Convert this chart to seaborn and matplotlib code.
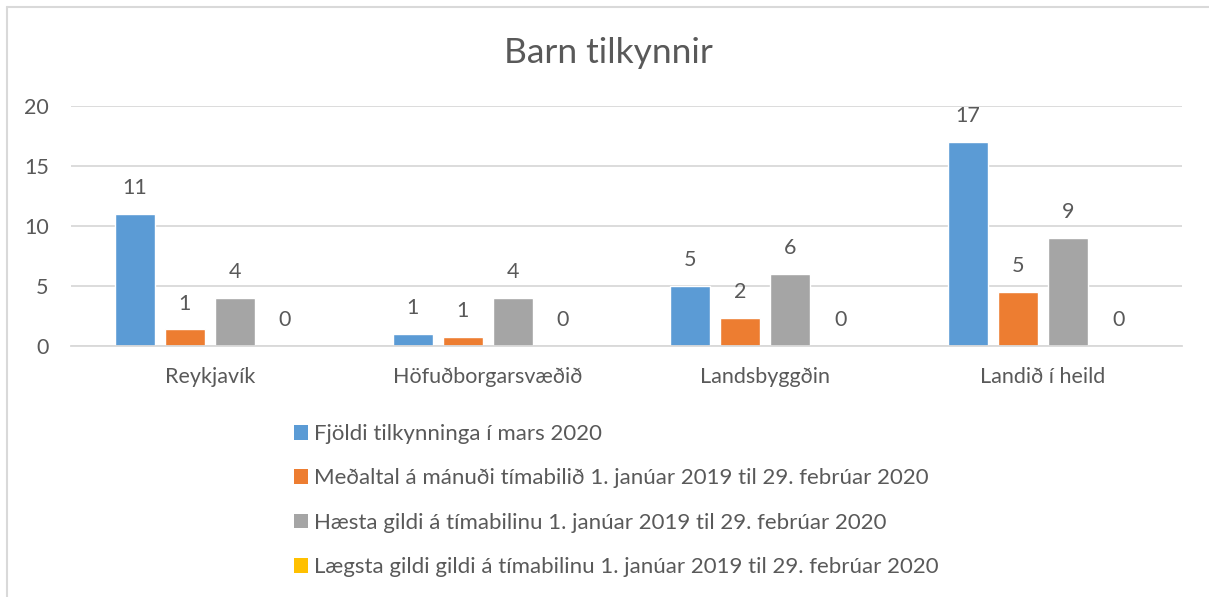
import matplotlib
matplotlib.use("Agg")
import matplotlib.pyplot as plt
import seaborn as sns
import pandas as pd
from matplotlib.lines import Line2D
from matplotlib.patches import Patch

categories = ["Reykjavík", "Höfuðborgarsvæðið", "Landsbyggðin", "Landið í heild"]
series_names = [
    "Fjöldi tilkynninga í mars 2020",
    "Meðaltal á mánuði tímabilið 1. janúar 2019 til 29. febrúar 2020",
    "Hæsta gildi á tímabilinu 1. janúar 2019 til 29. febrúar 2020",
    "Lægsta gildi gildi á tímabilinu 1. janúar 2019 til 29. febrúar 2020",
]
fjoldi = [11, 1, 5, 17]
medaltal = [1.4, 0.75, 2.35, 4.5]
haesta = [4, 4, 6, 9]
laegsta = [0, 0, 0, 0]
colors = ["#5b9bd5", "#ed7d31", "#a5a5a5", "#ffc000"]
yticks = [0, 5, 10, 15, 20]

rows = []
for name, vals in zip(series_names, [fjoldi, medaltal, haesta, laegsta]):
    for c, v in zip(categories, vals):
        rows.append({"cat": c, "series": name, "value": v})
df = pd.DataFrame(rows)

sns.set_theme(style="white")
plt.rcParams["font.family"] = ["Lato", "DejaVu Sans"]
txt = "#595959"

fig = plt.figure(figsize=(12.09, 5.97), dpi=100)
ax = fig.add_axes([71 / 1209, 1 - 345.7 / 597, (1182 - 71) / 1209, 240 / 597])

sns.barplot(data=df, x="cat", y="value", hue="series", order=categories,
            hue_order=series_names, palette=colors, width=0.72, gap=0.2,
            saturation=1, errorbar=None, legend=False, ax=ax)

for cont, vals in zip(ax.containers, [fjoldi, medaltal, haesta, laegsta]):
    ax.bar_label(cont, labels=[str(int(v + 0.5)) for v in vals], padding=11,
                 fontsize=15.5, color=txt)

ax.set_ylim(0, 20)
ax.set_xlim(-0.5, 3.5)
ax.set_yticks(yticks)
ax.set_yticklabels([str(t) for t in yticks])
ax.yaxis.grid(True, color="#d9d9d9", linewidth=1.3)
ax.set_axisbelow(True)
for s in ["top", "right", "left"]:
    ax.spines[s].set_visible(False)
ax.spines["bottom"].set_color("#d9d9d9")
ax.spines["bottom"].set_linewidth(1.3)
ax.tick_params(axis="y", length=0, pad=16, labelsize=15.5, labelcolor=txt)
ax.tick_params(axis="x", length=0, pad=15, labelsize=15.5, labelcolor=txt)
ax.set_xlabel("")
ax.set_ylabel("")

fig.text(608 / 1209, 1 - 53 / 597, "Barn tilkynnir", ha="center", va="center",
         fontsize=25.5, color=txt)

handles = [Patch(facecolor=c, edgecolor="none") for c in colors]
fig.legend(handles, series_names, loc="upper left",
           bbox_to_anchor=(285 / 1209, 1 - 415 / 597), frameon=False,
           fontsize=16, labelcolor=txt, handlelength=0.65, handleheight=0.65,
           handletextpad=0.25, labelspacing=1.1, borderaxespad=0)

fig.add_artist(Line2D([7 / 1209, 7 / 1209], [0, 1 - 7 / 597], color="#d9d9d9",
                      linewidth=1.5, transform=fig.transFigure))
fig.add_artist(Line2D([7 / 1209, 1], [1 - 7 / 597, 1 - 7 / 597], color="#d9d9d9",
                      linewidth=1.5, transform=fig.transFigure))

fig.savefig("out.png", dpi=100, facecolor="white")
